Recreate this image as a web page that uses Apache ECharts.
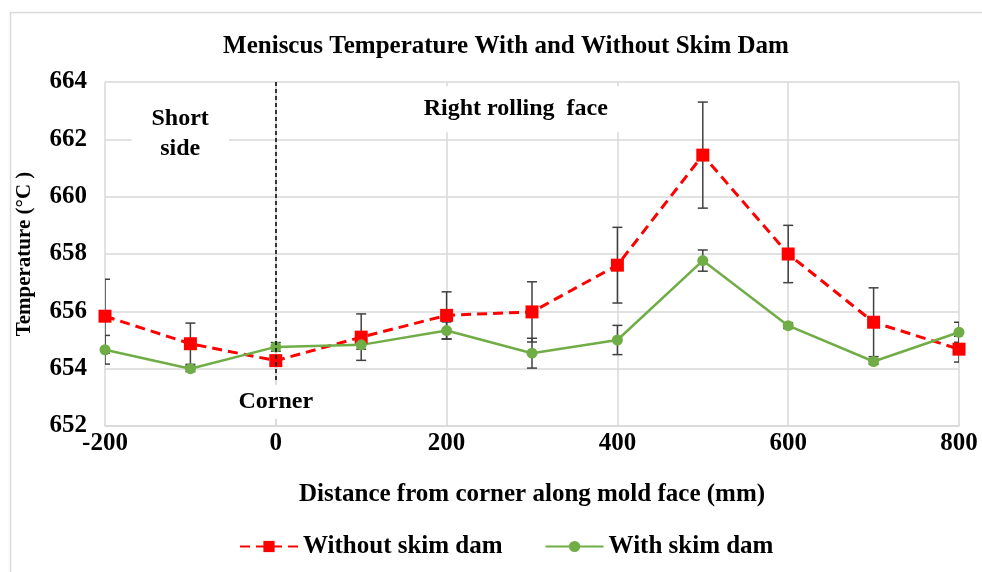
<!DOCTYPE html>
<html>
<head>
<meta charset="utf-8">
<script src="https://cdn.jsdelivr.net/npm/echarts@6/dist/echarts.min.js"></script>
<style>html,body{margin:0;padding:0;background:#fff}#c{width:982px;height:572px}</style>
</head>
<body>
<div id="c"></div>
<script>
const xValues = [-200, -100, 0, 100, 200, 300, 400, 500, 600, 700, 800];
const withoutDam = [655.83, 654.87, 654.28, 655.1, 655.86, 655.98, 657.61, 661.45, 658.0, 655.62, 654.68];
const withoutErr = [1.29, 0.72, 0.15, 0.81, 0.82, 1.05, 1.32, 1.85, 1.0, 1.2, 0.45];
const withDam = [654.66, 654.0, 654.76, 654.83, 655.33, 654.54, 655.0, 657.77, 655.5, 654.25, 655.27];
const withErr = [0.5, 0.1, 0.15, 0.15, 0.3, 0.52, 0.51, 0.37, 0.1, 0.1, 0.35];
const seriesNames = ['Without skim dam', 'With skim dam'];
const titleText = 'Meniscus Temperature With and Without Skim Dam';
const xAxisName = 'Distance from corner along mold face (mm)';
const yAxisName = 'Temperature (°C )';
const annotations = [
  { name: 'Short\nside', coord: [-112, 662.2] },
  { name: 'Right rolling  face', coord: [281, 663.05] },
  { name: 'Corner', coord: [0, 652.85] }
];
const cornerLine = [[0, 664], [0, 653.5]];

const FONT = 'Liberation Serif';

function errData(vals, errs) {
  return xValues.map((x, i) => [x, vals[i] - errs[i], vals[i] + errs[i]]);
}
function renderErr(params, api) {
  const x = api.value(0);
  const lo = api.coord([x, api.value(1)]);
  const hi = api.coord([x, api.value(2)]);
  const w = 5;
  const st = { stroke: '#404040', lineWidth: 1.5 };
  return {
    type: 'group',
    children: [
      { type: 'line', shape: { x1: lo[0], y1: lo[1], x2: hi[0], y2: hi[1] }, style: st },
      { type: 'line', shape: { x1: hi[0] - w, y1: hi[1], x2: hi[0] + w, y2: hi[1] }, style: st },
      { type: 'line', shape: { x1: lo[0] - w, y1: lo[1], x2: lo[0] + w, y2: lo[1] }, style: st }
    ]
  };
}

const chart = echarts.init(document.getElementById('c'));
chart.setOption({
  backgroundColor: '#fff',
  animation: false,
  graphic: [{
    type: 'rect', left: 8, top: 10,
    shape: { width: 1000, height: 600 },
    style: { fill: 'none', stroke: '#d9d9d9', lineWidth: 1.5 },
    silent: true
  }],
  title: {
    text: titleText,
    left: 501, top: 29, textAlign: 'center',
    textStyle: { fontFamily: FONT, fontWeight: 'bold', fontSize: 25, color: '#000' }
  },
  legend: {
    data: seriesNames,
    left: 234, top: 529,
    itemWidth: 58, itemHeight: 14, itemGap: 42,
    textStyle: { fontFamily: FONT, fontWeight: 'bold', fontSize: 25, color: '#000' }
  },
  grid: { left: 105, right: 23, top: 82, bottom: 146, containLabel: false },
  xAxis: {
    type: 'value', min: -200, max: 800, interval: 200,
    name: xAxisName, nameLocation: 'middle', nameGap: 56,
    nameTextStyle: { fontFamily: FONT, fontWeight: 'bold', fontSize: 25, color: '#000' },
    axisLine: { show: true, lineStyle: { color: '#d9d9d9', width: 1.5 } },
    axisTick: { show: false },
    axisLabel: { margin: 5, fontFamily: FONT, fontWeight: 'bold', fontSize: 25, color: '#000' },
    splitLine: { show: true, lineStyle: { color: '#d9d9d9', width: 1.5 } }
  },
  yAxis: {
    type: 'value', min: 652, max: 664, interval: 2,
    name: yAxisName, nameLocation: 'middle', nameGap: 70,
    nameTextStyle: { fontFamily: FONT, fontWeight: 'bold', fontSize: 21, color: '#000' },
    axisLine: { show: true, lineStyle: { color: '#d9d9d9', width: 1.5 } },
    axisTick: { show: false },
    axisLabel: { margin: 18, fontFamily: FONT, fontWeight: 'bold', fontSize: 25, color: '#000' },
    splitLine: { show: true, lineStyle: { color: '#d9d9d9', width: 1.5 } }
  },
  series: [
    {
      type: 'custom', name: 'errWithout', renderItem: renderErr, clip: true, z: 1,
      data: errData(withoutDam, withoutErr), silent: true
    },
    {
      type: 'custom', name: 'errWith', renderItem: renderErr, clip: true, z: 1,
      data: errData(withDam, withErr), silent: true,
      markLine: {
        silent: true, symbol: 'none', label: { show: false },
        lineStyle: { color: '#000', type: [4, 3], width: 1.5 },
        data: [[{ coord: cornerLine[0] }, { coord: cornerLine[1] }]]
      }
    },
    {
      type: 'line', name: seriesNames[0], z: 3,
      data: xValues.map((x, i) => [x, withoutDam[i]]),
      symbol: 'rect', symbolSize: 13,
      itemStyle: { color: '#ff0000' },
      lineStyle: { color: '#ff0000', width: 3, type: [10, 6] }
    },
    {
      type: 'line', name: seriesNames[1], z: 3,
      data: xValues.map((x, i) => [x, withDam[i]]),
      symbol: 'circle', symbolSize: 11,
      itemStyle: { color: '#70ad47' },
      lineStyle: { color: '#70ad47', width: 2.5 },
      markPoint: {
        silent: true, symbol: 'rect', symbolSize: 1,
        itemStyle: { color: 'rgba(0,0,0,0)' },
        label: {
          show: true, position: 'inside', formatter: p => p.name,
          fontFamily: FONT, fontWeight: 'bold', fontSize: 24, color: '#000',
          lineHeight: 30, backgroundColor: '#fff', padding: [8, 20]
        },
        data: annotations.map((a, i) => ({
          name: a.name, coord: a.coord,
          label: i === 2 ? { padding: [2, 20] } : undefined
        }))
      }
    }
  ]
});
</script>
</body>
</html>
